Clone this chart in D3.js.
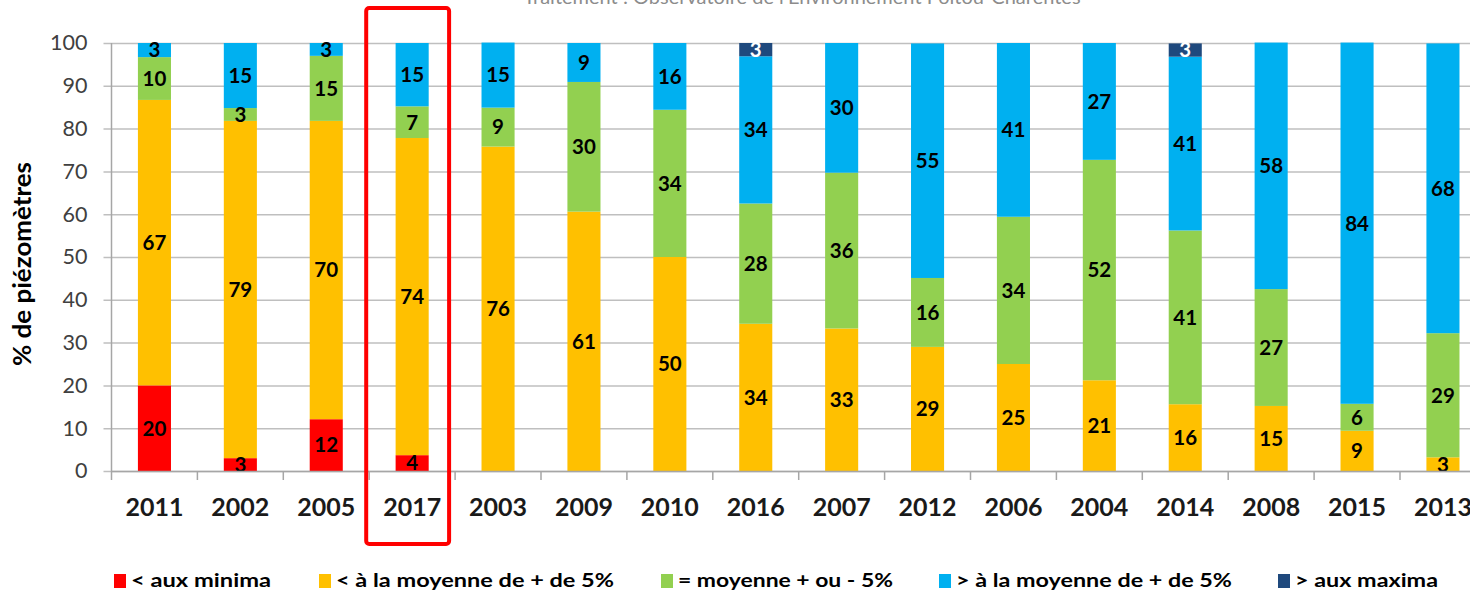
<!DOCTYPE html>
<html>
<head>
  <meta charset="utf-8">
  <style>
    body { margin: 0; background: #fff; }
    svg { display: block; font-family: Lato, "Open Sans", sans-serif; }
  </style>
</head>
<body>
<script src="https://d3js.org/d3.v7.min.js"></script>
<div id="chart"></div>
<script>
  // Years, in the order of the chart
  const years = ["2011", "2002", "2005", "2017", "2003", "2009", "2010", "2016",
                 "2007", "2012", "2006", "2004", "2014", "2008", "2015", "2013"];

  // Share of piezometers (%) per class, one array per series
  const auxMinima    = [20.0, 3.0, 12.1, 3.7, 0, 0, 0, 0, 0, 0, 0, 0, 0, 0, 0, 0];
  const sousMoyenne  = [66.7, 78.8, 69.7, 74.1, 75.8, 60.6, 50.0, 34.4, 33.3, 29.0, 25.0, 21.2, 15.6, 15.2, 9.4, 3.2];
  const moyenne      = [10.0, 3.0, 15.2, 7.4, 9.1, 30.3, 34.4, 28.1, 36.4, 16.1, 34.4, 51.5, 40.6, 27.3, 6.3, 29.0];
  const surMoyenne   = [3.3, 15.2, 3.0, 14.8, 15.2, 9.1, 15.6, 34.4, 30.3, 54.8, 40.6, 27.3, 40.6, 57.6, 84.4, 67.7];
  const auxMaxima    = [0, 0, 0, 0, 0, 0, 0, 3.1, 0, 0, 0, 0, 3.1, 0, 0, 0];

  const seriesNames = ["< aux minima", "< à la moyenne de + de 5%", "= moyenne + ou - 5%",
                       "> à la moyenne de + de 5%", "> aux maxima"];
  const seriesColors = ["#ff0000", "#ffc000", "#92d050", "#00b0f0", "#1f497d"];
  const yTicks = [0, 10, 20, 30, 40, 50, 60, 70, 80, 90, 100];
  const highlightYear = "2017";

  const keys = ["minima", "sous", "moy", "sur", "maxima"];
  const rows = years.map((y, i) => ({
    year: y,
    minima: auxMinima[i], sous: sousMoyenne[i], moy: moyenne[i],
    sur: surMoyenne[i], maxima: auxMaxima[i]
  }));

  const W = 1470, H = 592;
  const plotLeft = 111.5, plotTop = 43, plotBottom = 471;
  const step = 85.9;

  const svg = d3.select("#chart").append("svg")
    .attr("width", W).attr("height", H);

  // Source line, cut off at the very top as in the original
  svg.append("text")
    .attr("x", 802).attr("y", 4)
    .attr("text-anchor", "middle")
    .attr("font-size", 20)
    .attr("fill", "#8c8c8c")
    .text("Traitement : Observatoire de l'Environnement Poitou-Charentes");

  const x = d3.scaleBand().domain(years).range([plotLeft, plotLeft + step * years.length]).padding(0);
  const xBar = d3.scaleBand().domain(years).range(x.range())
    .paddingInner(0.615).paddingOuter(0.3075);
  const y = d3.scaleLinear().domain([0, 100]).range([plotBottom, plotTop]);

  // gridlines + y axis
  svg.append("g")
    .attr("transform", `translate(${plotLeft},0)`)
    .call(d3.axisLeft(y).tickValues(yTicks).tickSize(-(x.range()[1] - plotLeft)).tickSizeOuter(0))
    .call(g => g.select(".domain").remove())
    .call(g => g.selectAll(".tick line").attr("stroke", "#bfbfbf").attr("stroke-width", 1.5)
      .attr("x1", -8))
    .call(g => g.selectAll(".tick text").attr("x", -24).attr("font-size", 21.5)
      .attr("fill", "#404040").attr("font-family", "Lato, sans-serif"));

  svg.append("line")
    .attr("x1", plotLeft).attr("x2", plotLeft).attr("y1", plotTop).attr("y2", plotBottom)
    .attr("stroke", "#a6a6a6").attr("stroke-width", 1.5);

  // stacked bars
  const stacked = d3.stack().keys(keys)(rows);
  const layers = svg.append("g").selectAll("g")
    .data(stacked).join("g")
    .attr("fill", (d, i) => seriesColors[i]);

  layers.selectAll("rect")
    .data(d => d.filter(s => s[1] - s[0] > 0))
    .join("rect")
    .attr("x", d => xBar(d.data.year))
    .attr("width", xBar.bandwidth())
    .attr("y", d => y(d[1]))
    .attr("height", d => y(d[0]) - y(d[1]));

  // value labels
  stacked.forEach((layer, i) => {
    svg.append("g").selectAll("text")
      .data(layer.filter(s => s[1] - s[0] > 0))
      .join("text")
      .attr("x", d => xBar(d.data.year) + xBar.bandwidth() / 2)
      .attr("y", d => y((d[0] + d[1]) / 2))
      .attr("dy", "0.36em")
      .attr("text-anchor", "middle")
      .attr("font-size", 20.5)
      .attr("font-weight", "bold")
      .attr("fill", i === 4 ? "#fff" : "#000")
      .text(d => Math.round(d[1] - d[0]));
  });

  // x axis
  const xAxis = svg.append("g")
    .attr("transform", `translate(0,${plotBottom})`)
    .call(d3.axisBottom(x).tickSize(0).tickSizeOuter(0));
  xAxis.select(".domain").attr("stroke", "#a6a6a6").attr("stroke-width", 1.5);
  xAxis.selectAll(".tick text")
    .attr("y", 27).attr("dy", "0.71em")
    .attr("font-size", 25).attr("font-weight", "bold")
    .attr("fill", "#1a1a1a").attr("font-family", "Lato, sans-serif");
  xAxis.selectAll(".sep")
    .data(years).join("line")
    .attr("class", "sep")
    .attr("x1", d => x(d)).attr("x2", d => x(d))
    .attr("y1", 0).attr("y2", 9)
    .attr("stroke", "#a6a6a6").attr("stroke-width", 1.5);

  // y axis title
  svg.append("text")
    .attr("transform", `translate(31,${264}) rotate(-90)`)
    .attr("text-anchor", "middle")
    .attr("font-size", 24).attr("font-weight", "bold")
    .attr("fill", "#000")
    .attr("textLength", 204)
    .attr("lengthAdjust", "spacingAndGlyphs")
    .text("% de piézomètres");

  // highlight frame around 2017
  svg.append("rect")
    .attr("x", x(highlightYear) - 3)
    .attr("y", 8)
    .attr("width", x.bandwidth() - 3)
    .attr("height", 536)
    .attr("rx", 3)
    .attr("fill", "none")
    .attr("stroke", "#ff0000")
    .attr("stroke-width", 4);

  // legend
  const legendX = [114, 319, 661, 939, 1278];
  const legendW = [140, 278, 215, 276, 143];
  const legend = svg.append("g").selectAll("g")
    .data(seriesNames).join("g")
    .attr("transform", (d, i) => `translate(${legendX[i]},574)`);
  legend.append("rect")
    .attr("width", 12).attr("height", 14)
    .attr("fill", (d, i) => seriesColors[i]);
  legend.append("text")
    .attr("x", 17).attr("y", 7).attr("dy", "0.36em")
    .attr("font-size", 18).attr("font-weight", "bold")
    .attr("fill", "#000")
    .attr("textLength", (d, i) => legendW[i])
    .attr("lengthAdjust", "spacingAndGlyphs")
    .text(d => d);
</script>
</body>
</html>
